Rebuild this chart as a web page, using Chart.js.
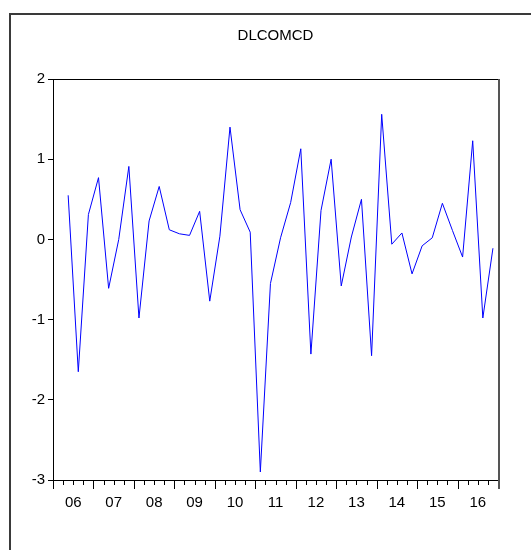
<!DOCTYPE html>
<html>
<head>
<meta charset="utf-8">
<title>DLCOMCD</title>
<script src="https://cdn.jsdelivr.net/npm/chart.js@4.4.0/dist/chart.umd.min.js"></script>
<style>
  html, body { margin: 0; padding: 0; background: #fff; overflow: hidden; }
  #wrap { position: relative; width: 531px; height: 550px; overflow: hidden; }
  #frame {
    position: absolute; left: 9px; top: 13px; width: 540px; height: 560px;
    border: 2px solid #3a3a3a; box-sizing: border-box;
  }
  #chart { position: absolute; left: 0; top: 0; }
</style>
</head>
<body>
<div id="wrap">
  <div id="frame"></div>
  <canvas id="chart" width="531" height="550"></canvas>
</div>
<script>
const seriesName = 'DLCOMCD';
const startYear = 2006;
const startQuarter = 2;
const yearLabels = ['06', '07', '08', '09', '10', '11', '12', '13', '14', '15', '16'];
const yTicks = [-3, -2, -1, 0, 1, 2];

// quarterly values, 2006Q2 .. 2016Q4
const values = [
  0.55, -1.65, 0.31, 0.77,
  -0.61, 0.00, 0.91, -0.98,
  0.23, 0.66, 0.12, 0.07,
  0.05, 0.35, -0.77, 0.04,
  1.40, 0.37, 0.09, -2.90,
  -0.55, 0.02, 0.46, 1.13,
  -1.43, 0.36, 1.00, -0.58,
  0.03, 0.50, -1.45, 1.56,
  -0.06, 0.08, -0.43, -0.08,
  0.02, 0.45, 0.11, -0.22,
  1.23, -0.98, -0.11
];

const FONT = "'Liberation Sans Narrow', 'Liberation Sans', Arial, sans-serif";

// each point sits in the middle of its quarter
const points = values.map((v, i) => ({
  x: startYear + (startQuarter - 1 + i + 0.5) / 4,
  y: v
}));

const endYear = startYear + yearLabels.length;

// quarter tick marks under the x axis, longer at year boundaries
const quarterTicks = {
  id: 'quarterTicks',
  afterDraw(chart) {
    const { ctx, chartArea, scales } = chart;
    const xs = scales.x;
    ctx.save();
    ctx.strokeStyle = '#000';
    ctx.lineWidth = 1;
    ctx.beginPath();
    for (let q = 0; q <= yearLabels.length * 4; q++) {
      const x = Math.round(xs.getPixelForValue(startYear + q / 4)) + 0.5;
      const len = q % 4 === 0 ? 9 : 5;
      ctx.moveTo(x, chartArea.bottom);
      ctx.lineTo(x, chartArea.bottom + len);
    }
    ctx.stroke();
    ctx.restore();
  }
};

// top and right edges of the plot box
const plotBox = {
  id: 'plotBox',
  afterDraw(chart) {
    const { ctx, chartArea: a } = chart;
    ctx.save();
    ctx.lineWidth = 1;
    ctx.strokeStyle = '#000';
    ctx.beginPath();
    ctx.moveTo(a.left, a.top + 0.5);
    ctx.lineTo(a.right, a.top + 0.5);
    ctx.stroke();
    ctx.strokeStyle = '#555';
    ctx.lineWidth = 2;
    ctx.beginPath();
    ctx.moveTo(a.right + 1, a.top);
    ctx.lineTo(a.right + 1, a.bottom + 9);
    ctx.stroke();
    ctx.restore();
  }
};

new Chart(document.getElementById('chart'), {
  type: 'line',
  data: {
    datasets: [{
      label: seriesName,
      data: points,
      borderColor: '#0000ff',
      borderWidth: 1,
      pointRadius: 0,
      tension: 0,
      fill: false
    }]
  },
  options: {
    responsive: false,
    animation: false,
    layout: { padding: { left: 0, right: 33, top: 0, bottom: 0 } },
    plugins: {
      legend: { display: false },
      tooltip: { enabled: false },
      title: {
        display: true,
        text: seriesName,
        fullSize: false,
        color: '#000',
        font: { family: FONT, size: 15, weight: 'normal', lineHeight: 1.2 },
        padding: { top: 27, bottom: 34 }
      }
    },
    scales: {
      x: {
        type: 'linear',
        min: startYear,
        max: endYear,
        afterBuildTicks(scale) {
          scale.ticks = yearLabels.map((_, i) => ({ value: startYear + i + 0.5 }));
        },
        afterFit(scale) { scale.height = 70; },
        grid: { display: false, drawTicks: false },
        border: { display: true, color: '#000', width: 1 },
        ticks: {
          autoSkip: false,
          maxRotation: 0,
          padding: 14,
          color: '#000',
          font: { family: FONT, size: 15 },
          callback: (v, i) => yearLabels[i]
        }
      },
      y: {
        min: yTicks[0],
        max: yTicks[yTicks.length - 1],
        afterBuildTicks(scale) {
          scale.ticks = yTicks.map(v => ({ value: v }));
        },
        afterFit(scale) { scale.width = 53; },
        grid: { drawOnChartArea: false, drawTicks: true, tickLength: 5, color: '#000' },
        border: { display: true, color: '#000', width: 1 },
        ticks: {
          padding: 3,
          color: '#000',
          font: { family: FONT, size: 15 },
          callback: v => String(v)
        }
      }
    }
  },
  plugins: [quarterTicks, plotBox]
});
</script>
</body>
</html>
